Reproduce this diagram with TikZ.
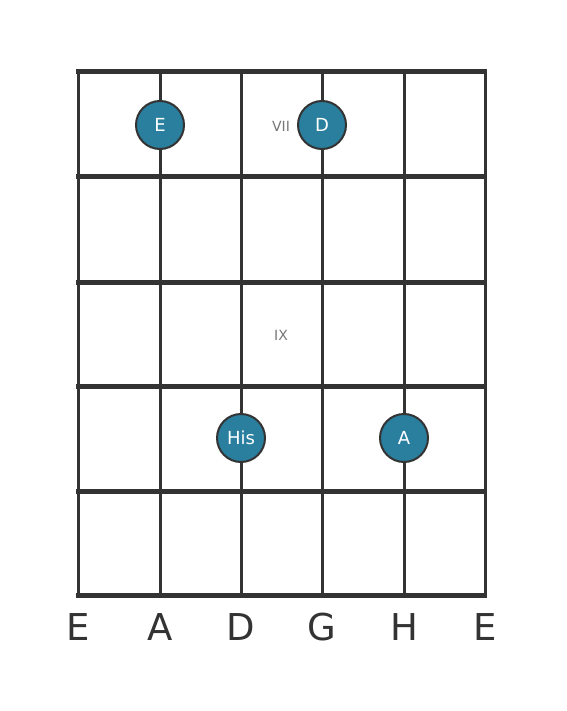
\documentclass[tikz,border=0pt]{standalone}
\usepackage{fontspec}
\setmainfont{DejaVu Sans}
\definecolor{grid}{HTML}{333333}
\definecolor{dot}{HTML}{2A7F9E}
\definecolor{fretno}{HTML}{777777}
\begin{document}
\begin{tikzpicture}[x=1pt,y=-1pt,
  fret/.style={draw=grid,line width=5pt},
  strg/.style={draw=grid,line width=3pt},
  notedot/.style={circle,fill=dot,draw=grid,line width=2pt,minimum size=48pt,inner sep=0pt,text=white,font=\fontsize{18}{20}\selectfont},
  fretlabel/.style={text=fretno,font=\fontsize{14}{16}\selectfont},
  stringname/.style={text=grid,font=\fontsize{37}{40}\selectfont}]
\useasboundingbox (0,0) rectangle (566,711);
\fill[white] (0,0) rectangle (566,711);
\foreach \x in {78,160,241,322,404,485} \draw[strg] (\x,72) -- (\x,595);
\foreach \y in {72,177,282,386,491,595} \draw[fret] (76,\y) -- (487,\y);
\node[fretlabel] (vii) at (281,126) {VII};
\node[fretlabel] (ix) at (281,335) {IX};
\node[notedot] (n1) at (160,125) {E};
\node[notedot] (n2) at (322,125) {D};
\node[notedot] (n3) at (241,438) {His};
\node[notedot] (n4) at (404,438) {A};
\node[stringname] (s1) at (78,627) {E};
\node[stringname] (s2) at (160,627) {A};
\node[stringname] (s3) at (241,627) {D};
\node[stringname] (s4) at (322,627) {G};
\node[stringname] (s5) at (404,627) {H};
\node[stringname] (s6) at (485,627) {E};
\end{tikzpicture}
\end{document}
